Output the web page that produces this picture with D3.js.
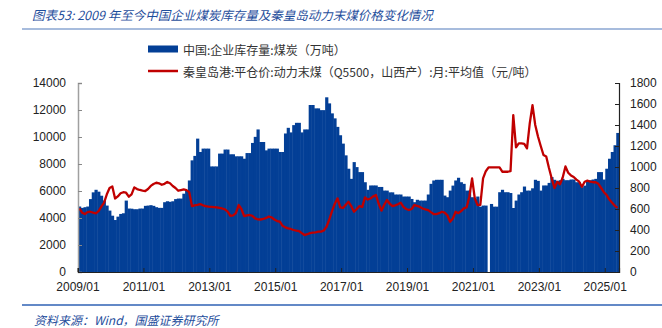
<!DOCTYPE html>
<html><head><meta charset="utf-8">
<script src="https://cdn.jsdelivr.net/npm/d3@7"></script>
<style>body{margin:0;background:#fff}svg{display:block}</style>
</head><body>
<svg id="c" width="662" height="328"></svg>
<script>
// ---- data (monthly, 2009/01 – 2025/05) ----
const firstMonth = [2009, 0];
const lastMonthExclusive = [2025, 5];

// 中国:企业库存量:煤炭（万吨）
const inventory = [
  4850, 4750, 4800, 4850, 5400, 5900, 6090, 5950, 5650, 5290, 4920, 4550, // 2009
  4170, 3850, 4100, 4300, 4350, 5290, 4700, 4690, 4650, 4650, 4700, 4700, // 2010
  4900, 4920, 4950, 4900, 4800, 4750, 4750, 5170, 5240, 5200, 5240, 5400, // 2011
  5440, 5440, 5800, 6030, 6780, 8270, 8600, 9880, 8890, 9140, 9140, 9140, // 2012
  7820, 7820, 7820, 8770, 8770, 9070, 9070, 8720, 8720, 8570, 8570, 8570, // 2013
  8390, 8810, 8810, 9560, 10010, 10560, 9630, 9630, 9010, 9140, 9140, 9140, // 2014
  9140, 8890, 8890, 10260, 10680, 10340, 10880, 11050, 11050, 10340, 10560, 10560, // 2015
  12370, 12370, 12120, 12120, 11990, 11990, 12940, 12490, 11750, 11380, 10750, 10130, // 2016
  9510, 8640, 7650, 6900, 8140, 7770, 7400, 7400, 6650, 6090, 6410, 6410, // 2017
  6410, 6300, 6300, 6030, 6030, 5900, 5900, 5740, 5740, 5740, 5590, 5590, // 2018
  5590, 5410, 5170, 5350, 5290, 5290, 5290, 5740, 6530, 6780, 6830, 6830, // 2019
  6830, 5660, 5540, 6030, 6400, 6780, 6980, 6650, 6530, 6030, 6030, 5540, // 2020
  5410, 5590, 4840, 4920, 4920, null, 5040, 4840, 4840, 5910, 6090, 5910, // 2021
  5910, 5850, 4740, 5290, 5740, 5910, 6330, 6030, 6030, 6200, 6830, 6750, // 2022
  6030, 6410, 6410, 6600, 7030, 6830, 6730, 6800, 6900, 6800, 6800, 6850, // 2023
  6850, 6650, 6650, 6280, 6400, 6800, 6800, 6850, 6900, 7400, 7400, 6850, // 2024
  7650, 8390, 8890, 9390, 10300                                           // 2025
];

// 秦皇岛港:平仓价:动力末煤（Q5500，山西产）:月:平均值（元/吨）
const price = [
  606, 565, 552, 570, 574, 565, 559, 580, 622, 660, 740, 800, // 2009
  815, 700, 720, 750, 760, 755, 717, 740, 806, 790, 781, 775, // 2010
  771, 790, 820, 838, 850, 845, 831, 840, 857, 845, 819, 800, // 2011
  774, 780, 786, 780, 760, 628, 635, 640, 647, 635, 628, 622, // 2012
  620, 618, 615, 610, 605, 597, 575, 535, 540, 560, 638, 600, // 2013
  533, 540, 543, 535, 510, 502, 500, 505, 515, 527, 520, 500, // 2014
  485, 479, 440, 425, 415, 410, 400, 394, 390, 370, 352, 360, // 2015
  370, 374, 378, 384, 384, 395, 431, 500, 580, 650, 701, 616, // 2016
  610, 640, 669, 628, 574, 600, 628, 620, 711, 690, 700, 720, // 2017
  733, 650, 584, 640, 686, 650, 628, 635, 645, 660, 620, 600, // 2018
  590, 600, 638, 630, 620, 605, 597, 590, 570, 552, 552, 560, // 2019
  574, 565, 540, 479, 510, 574, 560, 580, 606, 615, 717, 892, // 2020
  700, 638, 640, 892, 960, 996, 996, 996, 996, 996, 955, 955, // 2021
  955, 960, 1494, 1187, 1225, 1225, 1220, 1177, 1416, 1590, 1400, 1290, // 2022
  1200, 1114, 1100, 990, 890, 800, 860, 835, 900, 1005, 945, 920, // 2023
  905, 880, 860, 812, 860, 870, 860, 855, 855, 840, 800, 760, // 2024
  733, 690, 660, 630, 610                                     // 2025
];

const xTickLabels = ["2009/01","2011/01","2013/01","2015/01","2017/01","2019/01","2021/01","2023/01","2025/01"];
const leftTicks = [0, 2000, 4000, 6000, 8000, 10000, 12000, 14000];
const rightTicks = [0, 200, 400, 600, 800, 1000, 1200, 1400, 1600, 1800];

const titleText = "图表53: 2009 年至今中国企业煤炭库存量及秦皇岛动力末煤价格变化情况";
const legendBar = "中国:企业库存量:煤炭（万吨）";
const legendLine = "秦皇岛港:平仓价:动力末煤（Q5500，山西产）:月:平均值（元/吨）";
const sourceText = "资料来源：Wind，国盛证券研究所";

// ---- drawing ----
const svg = d3.select("#c");
const months = d3.timeMonth.range(new Date(firstMonth[0], firstMonth[1], 1), new Date(lastMonthExclusive[0], lastMonthExclusive[1], 1));
const fmt = d3.timeFormat("%Y/%m");
const cats = months.map(fmt);

const L = 78, R = 619, T = 83, B = 272;
const x = d3.scaleBand().domain(cats).range([L, R]).padding(0);
const yL = d3.scaleLinear().domain([0, 14000]).range([B, T]);
const yR = d3.scaleLinear().domain([0, 1800]).range([B, T]);
const bw = x.bandwidth();

const BLUE = "#033f96", RED = "#c00000";
const tickFont = "'Liberation Sans', Arial, sans-serif";
const cjk = "'Noto Sans CJK SC', sans-serif";

// title
svg.append("text").attr("x", 32).attr("y", 20)
  .attr("font-family", cjk).attr("font-size", 12.5).attr("font-style", "italic")
  .attr("fill", "#1f4e9c").text(titleText);
svg.append("line").attr("x1", 22).attr("x2", 662).attr("y1", 29).attr("y2", 29)
  .attr("stroke", "#8aa6d2").attr("stroke-width", 1.5);

// legend
svg.append("rect").attr("x", 148).attr("y", 45.5).attr("width", 30).attr("height", 7).attr("fill", BLUE);
svg.append("text").attr("x", 183).attr("y", 49).attr("dominant-baseline", "central")
  .attr("font-family", cjk).attr("font-size", 12).attr("fill", "#333").text(legendBar);
svg.append("line").attr("x1", 148).attr("x2", 178).attr("y1", 71).attr("y2", 71)
  .attr("stroke", RED).attr("stroke-width", 2.5);
svg.append("text").attr("x", 183).attr("y", 71).attr("dominant-baseline", "central")
  .attr("font-family", cjk).attr("font-size", 12).attr("fill", "#333").text(legendLine);

// bars
svg.append("g").selectAll("rect")
  .data(inventory.map((v, i) => ({ c: cats[i], v })).filter(d => d.v != null))
  .join("rect")
  .attr("x", d => x(d.c))
  .attr("width", bw + 0.45)
  .attr("y", d => yL(d.v))
  .attr("height", d => B - yL(d.v))
  .attr("fill", BLUE);

// line
const line = d3.line()
  .defined(d => d.v != null)
  .x(d => x(d.c) + bw / 2)
  .y(d => yR(d.v));
svg.append("path")
  .datum(price.map((v, i) => ({ c: cats[i], v })))
  .attr("d", line)
  .attr("fill", "none").attr("stroke", RED).attr("stroke-width", 2.3)
  .attr("stroke-linejoin", "round");

// axes
const gL = svg.append("g").attr("transform", `translate(${L},0)`)
  .call(d3.axisLeft(yL).tickValues(leftTicks).tickSize(-4).tickPadding(12).tickFormat(d3.format("d")));
gL.select(".domain").attr("stroke", "#a0a0a0").attr("stroke-width", 1.5);
gL.selectAll(".tick line").attr("stroke", "#888");
gL.selectAll("text").attr("font-family", tickFont).attr("font-size", 12).attr("fill", "#222");

const gR = svg.append("g").attr("transform", `translate(${R},0)`)
  .call(d3.axisRight(yR).tickValues(rightTicks).tickSize(-4).tickPadding(11).tickFormat(d3.format("d")));
gR.select(".domain").attr("stroke", "#222").attr("stroke-width", 1.2);
gR.selectAll(".tick line").attr("stroke", "#222");
gR.selectAll("text").attr("font-family", tickFont).attr("font-size", 12).attr("fill", "#222");

const gX = svg.append("g").attr("transform", `translate(0,${B})`)
  .call(d3.axisBottom(x).tickValues(xTickLabels.map(s => s)).tickSize(-4).tickPadding(10));
gX.selectAll(".tick").attr("transform", d => `translate(${x(d)},0)`);
gX.select(".domain").attr("stroke", "#222").attr("stroke-width", 1.2);
gX.selectAll(".tick line").attr("stroke", "#222");
gX.selectAll("text").attr("font-family", tickFont).attr("font-size", 12).attr("fill", "#222");

// source
svg.append("line").attr("x1", 22).attr("x2", 662).attr("y1", 305).attr("y2", 305)
  .attr("stroke", "#2f62b4").attr("stroke-width", 1.3);
svg.append("text").attr("x", 34).attr("y", 319).attr("dominant-baseline", "central")
  .attr("font-family", cjk).attr("font-size", 12).attr("font-style", "italic")
  .attr("fill", "#1f4e9c").text(sourceText);
</script>
</body></html>
